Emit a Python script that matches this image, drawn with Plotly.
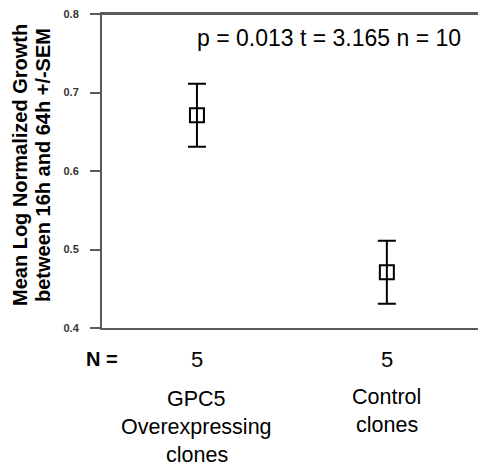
import plotly.graph_objects as go

groups = [["GPC5", "Overexpressing", "clones"], ["Control", "clones"]]
means = [0.671, 0.471]
sems = [0.040, 0.040]
n_counts = ["5", "5"]
stat_text = "p = 0.013 t = 3.165 n = 10"
y_ticks = [0.4, 0.5, 0.6, 0.7, 0.8]
y_title = ["Mean Log Normalized Growth", "between 16h and 64h +/-SEM"]

xpos = list(range(len(groups)))
FONT = "Arial, Liberation Sans, sans-serif"
AX = "#5a5a5a"
W, H = 478, 470
ML, MT, MB = 102, 14, 142
PH = H - MT - MB

fig = go.Figure()
fig.add_trace(go.Scatter(
    x=xpos, y=means, mode="markers",
    marker=dict(symbol="square-open", size=14, color="black", line=dict(width=2, color="black")),
    error_y=dict(type="data", array=sems, visible=True, color="black", thickness=2, width=9),
    showlegend=False,
))

annotations = [
    dict(text=stat_text, xref="paper", yref="paper", x=0.604, y=1 - 24 / PH, xanchor="center", yanchor="middle",
         showarrow=False, font=dict(family=FONT, size=23, color="black")),
    dict(text="<b>N =</b>", xref="paper", yref="paper", x=0.0, y=0, xanchor="center", yanchor="middle",
         yshift=-31, showarrow=False, font=dict(family=FONT, size=20, color="black")),
]
# y-axis title lines, rotated
for i, line in enumerate(y_title):
    annotations.append(dict(text=f"<b>{line}</b>", xref="paper", yref="paper", x=0, y=0.5 + 6 / PH,
                            xanchor="center", yanchor="middle", xshift=-82 + 23 * i, textangle=-90,
                            showarrow=False, font=dict(family=FONT, size=20, color="black")))
line_offsets = [[-71, -99, -127], [-69, -97]]
for xp, nc, g, offs in zip(xpos, n_counts, groups, line_offsets):
    annotations.append(dict(text=nc, xref="x", yref="paper", x=xp, y=0, xanchor="center", yanchor="middle",
                            yshift=-31, showarrow=False, font=dict(family=FONT, size=22, color="black")))
    for line, off in zip(g, offs):
        annotations.append(dict(text=line, xref="x", yref="paper", x=xp, y=0, xanchor="center",
                                yanchor="middle", yshift=off, showarrow=False, borderpad=0,
                                font=dict(family=FONT, size=21.5, color="black")))

fig.update_layout(
    width=W, height=H,
    margin=dict(l=ML, r=0, t=MT, b=MB),
    paper_bgcolor="white", plot_bgcolor="white",
    annotations=annotations,
    shapes=[dict(type="line", xref="paper", yref="paper", x0=0, x1=1, y0=1, y1=1,
                 line=dict(color=AX, width=2))],
    xaxis=dict(range=[-0.5, 1.48], showticklabels=False, ticks="", showgrid=False, zeroline=False,
               showline=True, mirror=True, linecolor=AX, linewidth=2),
    yaxis=dict(range=[0.4, 0.8], tickvals=y_ticks, ticktext=[f"<b>{v:.1f}</b>" for v in y_ticks],
               ticks="outside", ticklen=10, tickwidth=2, tickcolor=AX, showgrid=False, zeroline=False,
               showline=True, linecolor=AX, linewidth=2, ticklabelstandoff=9, ticklabeloverflow="allow",
               tickfont=dict(family=FONT, size=11, color="#333333")),
)
fig.write_html(
    "out.html",
    config={"displayModeBar": False},
    post_script="document.documentElement.style.overflow='hidden';"
                "document.body.style.margin='0';document.body.style.overflow='hidden';",
)
